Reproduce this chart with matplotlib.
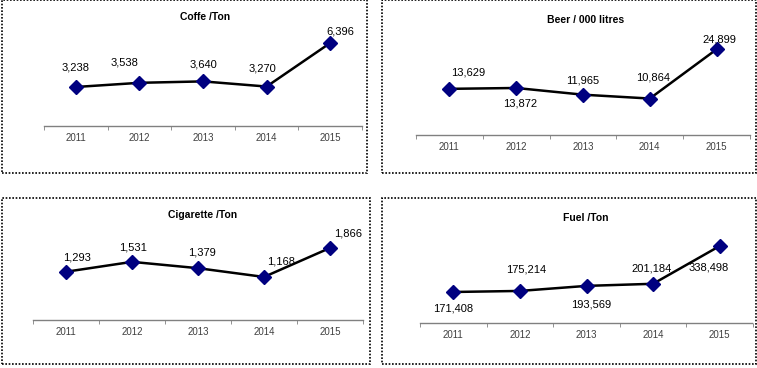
#!/usr/bin/env python3
"""
Four small line charts: yearly volumes of coffee, beer, cigarettes and fuel
"""

import matplotlib.pyplot as plt
from matplotlib.patches import Rectangle

years = ["2011", "2012", "2013", "2014", "2015"]

coffe = [3238, 3538, 3640, 3270, 6396]
beer = [13629, 13872, 11965, 10864, 24899]
cigarette = [1293, 1531, 1379, 1168, 1866]
fuel = [171408, 175214, 193569, 201184, 338498]

W, H = 757, 368

# panel layout in pixels: frame box, axes box (left, top, right, bottom), y range
panels = [
    {
        "title": "Coffe /Ton",
        "values": coffe,
        "frame": (2, 0, 367, 173),
        "axes": (44, 30, 362, 126),
        "ylim": (438, 7329),
        "title_xy": (205, 17),
        "offsets": [(0, -19), (-15, -20), (0, -17), (-4, -18), (10, -11)],
    },
    {
        "title": "Beer / 000 litres",
        "values": beer,
        "frame": (382, 0, 756, 173),
        "axes": (416, 30, 750, 135),
        "ylim": (471, 30400),
        "title_xy": (586, 20),
        "offsets": [(19, -16), (4, 16), (0, -14), (3, -21), (3, -10)],
    },
    {
        "title": "Cigarette /Ton",
        "values": cigarette,
        "frame": (2, 198, 370, 364),
        "axes": (33, 225, 363, 320),
        "ylim": (132, 2418),
        "title_xy": (203, 215),
        "offsets": [(11, -14), (1, -14), (4, -16), (17, -15), (18, -14)],
    },
    {
        "title": "Fuel /Ton",
        "values": fuel,
        "frame": (382, 198, 756, 364),
        "axes": (420, 228, 753, 323),
        "ylim": (58700, 403900),
        "title_xy": (586, 218),
        "offsets": [(0, 17), (6, -21), (5, 19), (-2, -15), (-11, 22)],
    },
]


def main():
    plt.rcParams["font.family"] = ["Liberation Sans", "DejaVu Sans"]
    fig = plt.figure(figsize=(W / 100, H / 100), dpi=100)

    for p in panels:
        fx0, fy0, fx1, fy1 = p["frame"]
        fig.patches.append(
            Rectangle(
                (fx0 / W, 1 - fy1 / H),
                (fx1 - fx0) / W,
                (fy1 - fy0) / H,
                transform=fig.transFigure,
                fill=False,
                edgecolor="black",
                linewidth=1.2,
                linestyle=(0, (1, 1)),
            )
        )

        x0, y0, x1, y1 = p["axes"]
        ax = fig.add_axes([x0 / W, 1 - y1 / H, (x1 - x0) / W, (y1 - y0) / H])
        xs = list(range(len(years)))
        ax.plot(
            xs,
            p["values"],
            color="black",
            linewidth=1.8,
            marker="D",
            markersize=7,
            markerfacecolor="#000080",
            markeredgecolor="#000080",
        )
        for x, v, off in zip(xs, p["values"], p["offsets"]):
            ax.annotate(
                f"{v:,}",
                (x, v),
                xytext=(off[0], -off[1]),
                textcoords="offset pixels",
                ha="center",
                va="center",
                fontsize=8,
                color="black",
            )

        ax.set_xlim(-0.5, len(years) - 0.5)
        ax.set_ylim(*p["ylim"])
        for side in ["top", "left", "right"]:
            ax.spines[side].set_visible(False)
        ax.spines["bottom"].set_color("#808080")
        ax.spines["bottom"].set_linewidth(1.0)
        ax.spines["bottom"].set_linestyle((0, (2, 1)))
        ax.set_yticks([])
        ax.set_xticks(xs)
        ax.set_xticklabels(years, fontsize=7, color="#404040")
        ax.tick_params(axis="x", which="major", length=0, pad=5)
        ax.set_xticks([i - 0.5 for i in range(len(years) + 1)], minor=True)
        ax.tick_params(axis="x", which="minor", length=3, color="#808080", direction="out")
        ax.patch.set_alpha(0)

        tx, ty = p["title_xy"]
        fig.text(
            tx / W,
            1 - ty / H,
            p["title"],
            ha="center",
            va="center",
            fontsize=7.5,
            fontweight="bold",
        )

    fig.savefig("out.png", dpi=100)


if __name__ == "__main__":
    main()
